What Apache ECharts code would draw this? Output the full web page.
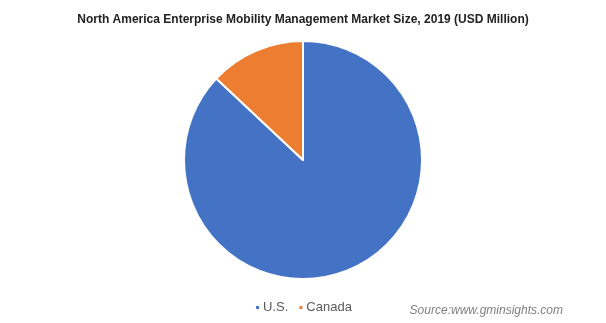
<!DOCTYPE html>
<html><head><meta charset="utf-8">
<script src="https://cdn.jsdelivr.net/npm/echarts@6/dist/echarts.min.js"></script>
<style>html,body{margin:0;padding:0;background:#fff}#c{width:606px;height:323px}</style>
</head><body><div id="c"></div>
<script>
var categories = ['U.S.', 'Canada'];
var values = [87, 13];
var colors = ['#4472C4', '#ED7D31'];
var chart = echarts.init(document.getElementById('c'));
chart.setOption({
  animation: false,
  title: {
    text: 'North America Enterprise Mobility Management Market Size, 2019 (USD Million)',
    left: 'center', top: 9,
    textStyle: {fontFamily: 'Liberation Sans, Arial', fontSize: 12, fontWeight: 'bold', color: '#222'}
  },
  legend: {
    data: categories, top: 296, left: 'center',
    icon: 'rect', itemWidth: 5, itemHeight: 5, itemGap: 9,
    textStyle: {fontFamily: 'Liberation Sans, Arial', fontSize: 13, color: '#595959', padding: [0, 0, 0, -2]}
  },
  graphic: [{
    type: 'text', right: 43, top: 305,
    style: {text: 'Source:www.gminsights.com', font: 'italic 12px Liberation Sans, Arial', fill: '#7f7f7f'}
  }],
  series: [{
    type: 'pie', center: [303, 160], radius: [0, 119],
    startAngle: 90, clockwise: true,
    label: {show: false}, labelLine: {show: false},
    itemStyle: {borderColor: '#fff', borderWidth: 2},
    data: categories.map(function (c, i) { return {name: c, value: values[i], itemStyle: {color: colors[i]}}; })
  }]
});
</script></body></html>
